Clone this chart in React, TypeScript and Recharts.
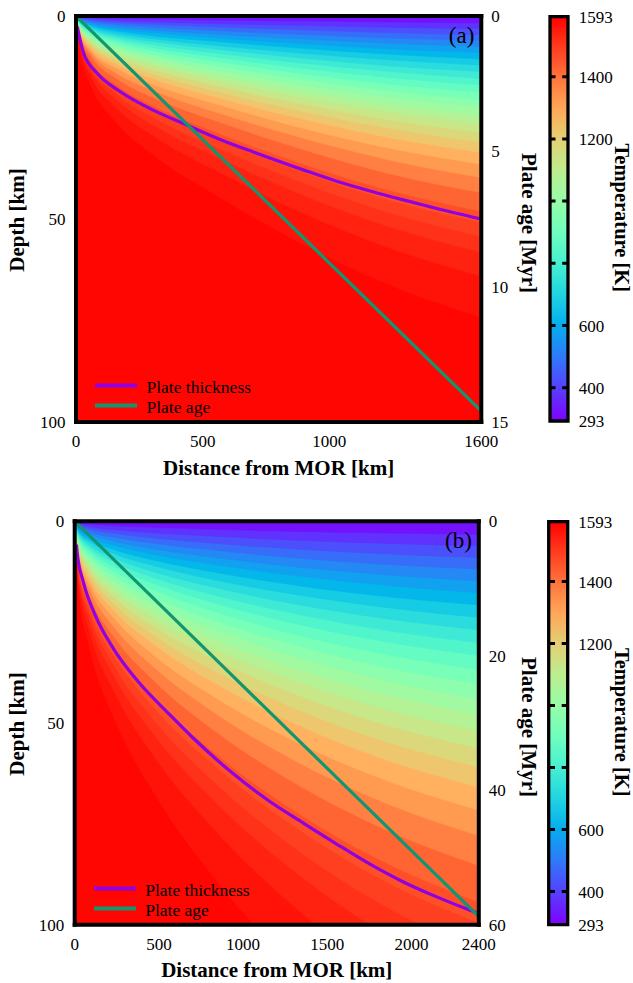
import React from 'react';
import {
  ComposedChart,
  Area,
  Line,
  XAxis,
  YAxis,
  CartesianGrid,
  Legend,
  Label,
  BarChart,
  Bar,
  ReferenceLine,
} from 'recharts';

const SERIF = '"Liberation Serif", "Times New Roman", Times, serif';
const PURPLE = '#9000e0';
const GREEN = '#13966f';
const T_SURFACE = 293;
const T_MANTLE = 1593;

// isotherms (K) that shade the temperature field, one band between each pair
const isoTemps = [
  350, 400, 450, 500, 550, 600, 650, 700, 750, 800, 850, 900, 950,
  1000, 1050, 1100, 1150, 1200, 1250, 1300, 1350, 1400, 1450, 1475, 1500, 1525, 1550, 1575,
];

// (a) distances (km) where the isotherm depths were read
const distA = [0, 16, 64, 160, 320, 560, 880, 1240, 1600];
// (a) isotherm depth (km), one row per entry of isoTemps
const isoDepthA = [
  [0, 0.2, 0.4, 0.6, 0.8, 1.0, 1.2, 1.5, 1.7],
  [0, 0.4, 0.7, 1.1, 1.5, 1.9, 2.3, 2.8, 3.1],
  [0, 0.5, 1.1, 1.6, 2.1, 2.7, 3.4, 4.1, 4.6],
  [0, 0.7, 1.4, 2.1, 2.8, 3.6, 4.5, 5.4, 6.0],
  [0, 0.9, 1.8, 2.7, 3.5, 4.5, 5.6, 6.7, 7.5],
  [0, 1.0, 2.2, 3.2, 4.2, 5.4, 6.8, 8.1, 9.0],
  [0, 1.2, 2.5, 3.7, 5.0, 6.3, 7.9, 9.4, 10.6],
  [0, 1.4, 2.9, 4.3, 5.7, 7.3, 9.1, 10.8, 12.1],
  [0, 1.6, 3.3, 4.9, 6.4, 8.2, 10.3, 12.3, 13.7],
  [0, 1.8, 3.7, 5.4, 7.2, 9.2, 11.5, 13.7, 15.4],
  [0, 2.0, 4.1, 6.0, 8.0, 10.2, 12.8, 15.2, 17.0],
  [0, 2.2, 4.5, 6.6, 8.8, 11.2, 14.1, 16.8, 18.8],
  [0, 2.4, 4.9, 7.3, 9.7, 12.3, 15.4, 18.4, 20.6],
  [0, 2.6, 5.4, 7.9, 10.5, 13.4, 16.8, 20.0, 22.4],
  [0, 2.8, 5.9, 8.6, 11.5, 14.6, 18.3, 21.8, 24.4],
  [0, 3.0, 6.4, 9.4, 12.4, 15.8, 19.9, 23.6, 26.5],
  [0, 3.3, 6.9, 10.2, 13.5, 17.2, 21.5, 25.6, 28.7],
  [0, 3.6, 7.5, 11.0, 14.6, 18.6, 23.3, 27.7, 31.1],
  [0, 3.9, 8.1, 11.9, 15.8, 20.1, 25.2, 30.0, 33.6],
  [0, 4.2, 8.8, 12.9, 17.2, 21.8, 27.4, 32.6, 36.5],
  [0, 4.6, 9.5, 14.1, 18.7, 23.8, 29.8, 35.5, 39.8],
  [0, 5.0, 10.4, 15.4, 20.5, 26.0, 32.6, 38.9, 43.5],
  [0, 5.5, 11.6, 17.0, 22.6, 28.8, 36.1, 43.0, 48.1],
  [0, 5.8, 12.2, 18.0, 23.9, 30.4, 38.1, 45.4, 50.8],
  [0, 6.2, 13.0, 19.2, 25.5, 32.5, 40.7, 48.5, 54.3],
  [0, 6.7, 14.0, 20.6, 27.4, 34.8, 43.7, 52.0, 58.2],
  [0, 7.4, 15.4, 22.7, 30.1, 38.3, 48.1, 57.2, 64.1],
  [0, 8.5, 17.8, 26.3, 34.9, 44.4, 55.7, 66.3, 74.2],
];

// (b) distances (km) where the isotherm depths were read
const distB = [0, 24, 96, 240, 480, 840, 1320, 1860, 2400];
// (b) isotherm depth (km), one row per entry of isoTemps
const isoDepthB = [
  [0, 0.4, 0.7, 1.1, 1.5, 2.0, 2.5, 2.9, 3.2],
  [0, 0.7, 1.4, 2.1, 2.9, 3.7, 4.7, 5.5, 6.1],
  [0, 1.1, 2.0, 3.0, 4.2, 5.5, 6.9, 8.1, 9.0],
  [0, 1.4, 2.7, 4.0, 5.5, 7.2, 9.1, 10.7, 11.8],
  [0, 1.8, 3.3, 5.0, 6.9, 9.0, 11.3, 13.3, 14.8],
  [0, 2.1, 4.0, 6.0, 8.3, 10.8, 13.5, 15.9, 17.7],
  [0, 2.5, 4.7, 7.1, 9.7, 12.7, 15.9, 18.7, 20.7],
  [0, 2.9, 5.3, 8.1, 11.1, 14.6, 18.2, 21.4, 23.8],
  [0, 3.2, 6.1, 9.2, 12.6, 16.5, 20.6, 24.2, 26.9],
  [0, 3.6, 6.8, 10.2, 14.1, 18.4, 23.0, 27.1, 30.1],
  [0, 4.0, 7.5, 11.3, 15.6, 20.4, 25.5, 30.0, 33.3],
  [0, 4.4, 8.3, 12.5, 17.2, 22.5, 28.2, 33.1, 36.8],
  [0, 4.8, 9.1, 13.7, 18.9, 24.7, 30.8, 36.3, 40.3],
  [0, 5.3, 9.9, 15.0, 20.6, 26.9, 33.6, 39.6, 44.0],
  [0, 5.7, 10.8, 16.3, 22.4, 29.3, 36.6, 43.0, 47.8],
  [0, 6.2, 11.7, 17.6, 24.3, 31.8, 39.7, 46.7, 51.9],
  [0, 6.8, 12.7, 19.1, 26.3, 34.4, 43.0, 50.6, 56.2],
  [0, 7.3, 13.7, 20.7, 28.5, 37.3, 46.6, 54.8, 60.9],
  [0, 7.9, 14.8, 22.4, 30.8, 40.3, 50.4, 59.3, 65.9],
  [0, 8.6, 16.1, 24.3, 33.5, 43.8, 54.8, 64.4, 71.6],
  [0, 9.4, 17.5, 26.5, 36.5, 47.7, 59.6, 70.1, 77.9],
  [0, 10.2, 19.2, 29.0, 39.9, 52.2, 65.2, 76.7, 85.3],
  [0, 11.3, 21.2, 32.1, 44.2, 57.7, 72.2, 84.9, 94.4],
  [0, 11.9, 22.4, 33.8, 46.6, 60.9, 76.1, 89.6, 99.5],
  [0, 12.8, 23.9, 36.2, 49.8, 65.1, 81.4, 95.8, 106.4],
  [0, 13.7, 25.7, 38.8, 53.4, 69.8, 87.3, 102.7, 114.1],
  [0, 15.1, 28.3, 42.7, 58.8, 76.9, 96.1, 113.0, 125.6],
  [0, 17.4, 32.7, 49.4, 68.0, 89.0, 111.2, 130.9, 145.4],
];

// plate thickness curve (distance km -> depth km)
const thickDistA = [5, 29, 82, 174, 305, 424, 569, 700, 897, 1029, 1161, 1292, 1424, 1600];
const thickDepthA = [2.6, 9.0, 14.0, 18.6, 23.2, 26.5, 30.4, 33.5, 37.9, 40.7, 43.1, 45.3, 47.4, 50.0];
const thickDistB = [10, 15, 51, 121, 229, 378, 566, 700, 942, 1150, 1358, 1556, 1754, 1952, 2150, 2348, 2400];
const thickDepthB = [5.8, 7.9, 15.0, 23.2, 31.5, 39.8, 48.0, 53.6, 62.6, 69.2, 74.8, 80.0, 85.0, 89.4, 93.1, 96.4, 97.2];

// plate age line (distance km -> age Myr)
const ageDistA = [0, 1600];
const ageMyrA = [0, 14.6];
const ageDistB = [0, 2400];
const ageMyrB = [0, 58.8];

const xTicksA = [0, 500, 1000, 1600];
const xTicksB = [0, 500, 1000, 1500, 2000, 2400];
const depthTicks = [0, 50, 100];
const ageTicksA = [0, 5, 10, 15];
const ageTicksB = [0, 20, 40, 60];

const cbarLabels = [293, 400, 600, 1200, 1400, 1593];
const cbarMarks = [400, 600, 800, 1000, 1200, 1400];
const cbarStops = [1593, 1575, 1550, 1525, 1500, 1450, 1400, 1300, 1200, 1100, 1000, 900, 800, 700, 600, 500, 400, 350, 293];

const legendItems = [
  { label: 'Plate thickness', color: PURPLE },
  { label: 'Plate age', color: GREEN },
];

// matplotlib "rainbow" colormap
function rainbow(f: number) {
  const c = Math.min(1, Math.max(0, f));
  const r = Math.min(1, Math.abs(2 * c - 0.5));
  const g = Math.sin(Math.PI * c);
  const b = Math.cos((Math.PI * c) / 2);
  return `rgb(${Math.round(r * 255)},${Math.round(g * 255)},${Math.round(b * 255)})`;
}
const tColor = (t: number) => rainbow((t - T_SURFACE) / (T_MANTLE - T_SURFACE));

const W = 633;
const H = 500;
const tickStyle = { fontSize: 17, fill: '#000', fontFamily: SERIF };
const frame = { stroke: '#000', strokeWidth: 4, strokeLinecap: 'square' as const };
const titleProps = { fontSize: 21, fontWeight: 700, fontFamily: SERIF, fill: '#000', textAnchor: 'middle' as const };

interface Box { left: number; right: number; top: number; bottom: number }

interface PanelProps {
  top: number;
  box: Box;
  xMax: number;
  xTicks: number[];
  ageMax: number;
  ageTicks: number[];
  dist: number[];
  iso: number[][];
  thickX: number[];
  thickD: number[];
  ageX: number[];
  ageY: number[];
  tag: string;
}

function Panel({ top, box, xMax, xTicks, ageMax, ageTicks, dist, iso, thickX, thickD, ageX, ageY, tag }: PanelProps) {
  const data = dist.map((x, j) => {
    const row: Record<string, number> = { x };
    isoTemps.forEach((t, k) => {
      row[`t${t}`] = iso[k][j];
    });
    return row;
  });
  const thickData = thickX.map((x, i) => ({ x, d: thickD[i] }));
  const ageData = ageX.map((x, i) => ({ x, age: ageY[i] }));
  const cx = (box.left + box.right) / 2;
  const cy = (box.top + box.bottom) / 2;
  const deepest = isoTemps[isoTemps.length - 1];

  return (
    <div style={{ position: 'absolute', left: 0, top, width: W, height: H }}>
      <ComposedChart width={W} height={H} data={data} margin={{ top: 0, right: 0, bottom: 0, left: 0 }}>
        <CartesianGrid
          xAxisId="bottom"
          yAxisId="depth"
          horizontal={false}
          vertical={false}
          stroke="none"
          fill={tColor((deepest + T_MANTLE) / 2)}
          fillOpacity={1}
        />
        {[...isoTemps].reverse().map((t) => {
          const k = isoTemps.indexOf(t);
          const lower = k === 0 ? T_SURFACE : isoTemps[k - 1];
          const c = tColor((lower + t) / 2);
          return (
            <Area
              key={t}
              xAxisId="bottom"
              yAxisId="depth"
              dataKey={`t${t}`}
              type="monotone"
              baseValue={0}
              stroke={c}
              strokeWidth={0.6}
              fill={c}
              fillOpacity={1}
              dot={false}
              activeDot={false}
              isAnimationActive={false}
            />
          );
        })}
        <Line
          xAxisId="bottom"
          yAxisId="depth"
          data={thickData}
          dataKey="d"
          type="monotone"
          stroke={PURPLE}
          strokeWidth={3.2}
          dot={false}
          activeDot={false}
          isAnimationActive={false}
        />
        <Line
          xAxisId="bottom"
          yAxisId="age"
          data={ageData}
          dataKey="age"
          type="linear"
          stroke={GREEN}
          strokeWidth={3.2}
          dot={false}
          activeDot={false}
          isAnimationActive={false}
        />
        <XAxis
          xAxisId="bottom"
          dataKey="x"
          type="number"
          domain={[0, xMax]}
          ticks={xTicks}
          interval={0}
          allowDataOverflow
          height={H - box.bottom}
          tickSize={0}
          tickMargin={13}
          axisLine={frame}
          tick={tickStyle}
        >
          <Label
            content={() => (
              <text x={cx} y={box.bottom + 52.5} {...titleProps}>
                Distance from MOR [km]
              </text>
            )}
          />
        </XAxis>
        <XAxis
          xAxisId="top"
          orientation="top"
          type="number"
          domain={[0, xMax]}
          allowDataOverflow
          height={box.top}
          tick={false}
          tickLine={false}
          axisLine={frame}
        >
          <Label
            content={() => (
              <text x={box.right - 7} y={box.top + 27} fontSize={23} fontFamily={SERIF} fill="#000" textAnchor="end">
                {tag}
              </text>
            )}
          />
        </XAxis>
        <YAxis
          yAxisId="depth"
          orientation="left"
          type="number"
          domain={[0, 100]}
          reversed
          ticks={depthTicks}
          interval={0}
          allowDataOverflow
          width={box.left}
          tickSize={0}
          tickMargin={10.5}
          axisLine={frame}
          tick={tickStyle}
        >
          <Label
            content={() => (
              <text x={23.5} y={cy + 1} transform={`rotate(-90 23.5 ${cy + 1})`} {...titleProps}>
                Depth [km]
              </text>
            )}
          />
        </YAxis>
        <YAxis
          yAxisId="age"
          orientation="right"
          type="number"
          domain={[0, ageMax]}
          reversed
          ticks={ageTicks}
          interval={0}
          allowDataOverflow
          width={W - box.right}
          tickSize={0}
          tickMargin={10}
          axisLine={frame}
          tick={tickStyle}
        >
          <Label
            content={() => (
              <text x={521.5} y={cy + 4} transform={`rotate(90 521.5 ${cy + 4})`} {...titleProps}>
                Plate age [Myr]
              </text>
            )}
          />
        </YAxis>
        <Legend
          layout="vertical"
          align="center"
          verticalAlign="middle"
          wrapperStyle={{ left: box.left + 19, top: box.bottom - 45, width: 220, height: 40, margin: 0, padding: 0 }}
          content={() => (
            <div style={{ fontFamily: SERIF, fontSize: 17.5, color: '#000' }}>
              {legendItems.map((it) => (
                <div key={it.label} style={{ display: 'flex', alignItems: 'center', height: 20 }}>
                  <svg width={42} height={20} style={{ display: 'block' }}>
                    <line x1={0} x2={42} y1={8.4} y2={8.4} stroke={it.color} strokeWidth={4} />
                  </svg>
                  <span style={{ marginLeft: 9.5, lineHeight: '20px', whiteSpace: 'nowrap' }}>{it.label}</span>
                </div>
              ))}
            </div>
          )}
        />
      </ComposedChart>
    </div>
  );
}

const cbarData = [{ name: 'T', range: [T_SURFACE, T_MANTLE] }];

function ColorBar({ top, box, id }: { top: number; box: Box; id: string }) {
  const cy = (box.top + box.bottom) / 2;
  return (
    <div style={{ position: 'absolute', left: 0, top, width: W, height: H }}>
      <BarChart
        width={W}
        height={H}
        data={cbarData}
        barCategoryGap={0}
        margin={{ top: box.top, left: box.left, right: 0, bottom: H - box.bottom }}
      >
        <defs>
          <linearGradient id={id} x1="0" y1="0" x2="0" y2="1">
            {cbarStops.map((t) => (
              <stop key={t} offset={(T_MANTLE - t) / (T_MANTLE - T_SURFACE)} stopColor={tColor(t)} />
            ))}
          </linearGradient>
        </defs>
        <XAxis dataKey="name" hide />
        <YAxis
          type="number"
          orientation="right"
          domain={[T_SURFACE, T_MANTLE]}
          ticks={cbarLabels}
          interval={0}
          width={W - box.right}
          tickSize={0}
          tickMargin={11}
          axisLine={false}
          tick={tickStyle}
        >
          <Label
            content={() => (
              <text
                x={615}
                y={cy - 1}
                transform={`rotate(90 615 ${cy - 1})`}
                {...titleProps}
                fontSize={20.5}
              >
                Temperature [K]
              </text>
            )}
          />
        </YAxis>
        <Bar dataKey="range" fill={`url(#${id})`} stroke="#000" strokeWidth={3.3} isAnimationActive={false} />
        {cbarMarks.map((t) => (
          <ReferenceLine key={t} y={t} stroke="#000" strokeWidth={3} strokeDasharray="5.5 6.7" />
        ))}
      </BarChart>
    </div>
  );
}

export default function App() {
  const boxA = { left: 76, right: 481.3, top: 16, bottom: 422 };
  const boxB = { left: 74.7, right: 478.8, top: 21.3, bottom: 424.7 };
  return (
    <div style={{ position: 'absolute', left: 0, top: 0, width: 633, height: 983, background: '#fff', overflow: 'hidden' }}>
      <Panel
        top={0}
        box={boxA}
        xMax={1600}
        xTicks={xTicksA}
        ageMax={15}
        ageTicks={ageTicksA}
        dist={distA}
        iso={isoDepthA}
        thickX={thickDistA}
        thickD={thickDepthA}
        ageX={ageDistA}
        ageY={ageMyrA}
        tag="(a)"
      />
      <ColorBar top={0} box={{ left: 550, right: 567.7, top: 16.7, bottom: 421 }} id="cbarA" />
      <Panel
        top={500}
        box={boxB}
        xMax={2400}
        xTicks={xTicksB}
        ageMax={60}
        ageTicks={ageTicksB}
        dist={distB}
        iso={isoDepthB}
        thickX={thickDistB}
        thickD={thickDepthB}
        ageX={ageDistB}
        ageY={ageMyrB}
        tag="(b)"
      />
      <ColorBar top={500} box={{ left: 548.7, right: 567.2, top: 21.7, bottom: 424.7 }} id="cbarB" />
    </div>
  );
}
